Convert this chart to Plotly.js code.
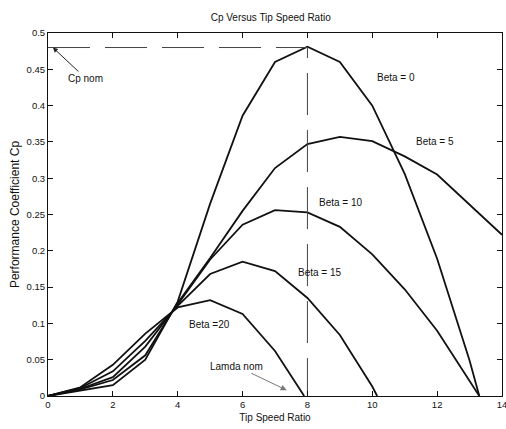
<!DOCTYPE html>
<html>
<head>
<meta charset="utf-8">
<script src="https://cdn.plot.ly/plotly-3.0.1.min.js"></script>
<style>html,body{margin:0;padding:0;background:#fff;}#chart{width:506px;height:429px;}</style>
</head>
<body>
<div id="chart"></div>
<script>
// Tip speed ratio (lambda) and power coefficient (Cp) per blade pitch angle
const lambdaBeta0  = [0, 1, 2, 3, 4, 5, 6, 7, 8, 9, 10, 11, 12, 13, 13.3];
const cpBeta0      = [0, 0.008, 0.015, 0.05, 0.13, 0.265, 0.386, 0.46, 0.481, 0.46, 0.40, 0.306, 0.189, 0.049, 0];

const lambdaBeta5  = [0, 1, 2, 3, 4, 5, 6, 7, 8, 9, 10, 11, 12, 13, 14];
const cpBeta5      = [0, 0.009, 0.022, 0.056, 0.128, 0.19, 0.255, 0.314, 0.347, 0.357, 0.351, 0.33, 0.305, 0.264, 0.222];

const lambdaBeta10 = [0, 1, 2, 3, 4, 5, 6, 7, 8, 9, 10, 11, 12, 13, 13.3];
const cpBeta10     = [0, 0.01, 0.026, 0.068, 0.126, 0.188, 0.236, 0.256, 0.253, 0.233, 0.195, 0.147, 0.09, 0.02, 0];

const lambdaBeta15 = [0, 1, 2, 3, 4, 5, 6, 7, 8, 9, 10, 10.15];
const cpBeta15     = [0, 0.011, 0.034, 0.076, 0.124, 0.168, 0.185, 0.172, 0.135, 0.084, 0.013, 0];

const lambdaBeta20 = [0, 1, 2, 3, 4, 5, 6, 7, 7.9];
const cpBeta20     = [0, 0.012, 0.043, 0.086, 0.122, 0.132, 0.113, 0.062, 0];

// Nominal operating point
const lambdaNom = 8;
const cpNom = 0.48;

const xTickVals = [0, 2, 4, 6, 8, 10, 12, 14];
const yTickVals = [0, 0.05, 0.1, 0.15, 0.2, 0.25, 0.3, 0.35, 0.4, 0.45, 0.5];
const yTickText = ["0", "0.05", "0.1", "0.15", "0.2", "0.25", "0.3", "0.35", "0.4", "0.45", "0.5"];

const curveLabels = [
  {text: "Beta = 0",  x: 10.73, y: 0.439},
  {text: "Beta = 5",  x: 11.93, y: 0.35},
  {text: "Beta = 10", x: 9.02,  y: 0.266},
  {text: "Beta = 15", x: 8.4,   y: 0.17},
  {text: "Beta =20",  x: 4.98,  y: 0.099}
];

const FONT = "Liberation Sans, Arial, Helvetica, sans-serif";
const lineStyle = {color: "#111", width: 1.8};

const traces = [
  {x: lambdaBeta0,  y: cpBeta0,  mode: "lines", line: lineStyle},
  {x: lambdaBeta5,  y: cpBeta5,  mode: "lines", line: lineStyle},
  {x: lambdaBeta10, y: cpBeta10, mode: "lines", line: lineStyle},
  {x: lambdaBeta15, y: cpBeta15, mode: "lines", line: lineStyle},
  {x: lambdaBeta20, y: cpBeta20, mode: "lines", line: lineStyle},
  {x: [0, lambdaNom, lambdaNom], y: [cpNom, cpNom, 0], mode: "lines",
   line: {color: "#444", width: 1, dash: "42px,15px"}}
];

const annotations = curveLabels.map(l => ({
  text: l.text, x: l.x, y: l.y, xref: "x", yref: "y", showarrow: false,
  font: {family: FONT, size: 10, color: "#111"}
}));
annotations.push({
  text: "Cp nom", x: 0.15, y: cpNom, xref: "x", yref: "y",
  showarrow: true, arrowhead: 2, arrowsize: 1, arrowwidth: 1, arrowcolor: "#222",
  ax: 33, ay: 31, font: {family: FONT, size: 10, color: "#111"}
});
annotations.push({
  text: "Lamda nom", x: 7.36, y: 0.008, xref: "x", yref: "y",
  showarrow: true, arrowhead: 2, arrowsize: 1.2, arrowwidth: 1, arrowcolor: "#777",
  ax: -50, ay: -24, font: {family: FONT, size: 10, color: "#111"}
});

const layout = {
  width: 506, height: 429,
  margin: {l: 48, r: 4, t: 33, b: 33},
  paper_bgcolor: "#fff", plot_bgcolor: "#fff",
  showlegend: false,
  font: {family: FONT, size: 9.5, color: "#111"},
  title: {text: "Cp Versus Tip Speed Ratio", font: {family: FONT, size: 10, color: "#111"},
          x: 0.535, xanchor: "center", y: 0.96, yanchor: "middle"},
  xaxis: {
    range: [0, 14], tickvals: xTickVals, ticks: "inside", ticklen: 5, tickcolor: "#111",
    showline: true, linecolor: "#111", linewidth: 1, mirror: "ticks", showgrid: false, zeroline: false,
    tickfont: {family: FONT, size: 9.5}, ticklabeloverflow: "allow",
    title: {text: "Tip Speed Ratio", font: {family: FONT, size: 10}, standoff: 4}
  },
  yaxis: {
    range: [0, 0.5], tickvals: yTickVals, ticktext: yTickText, ticks: "inside", ticklen: 5, tickcolor: "#111",
    showline: true, linecolor: "#111", linewidth: 1, mirror: "ticks", showgrid: false, zeroline: false,
    tickfont: {family: FONT, size: 9.5}, ticklabeloverflow: "allow",
    title: {text: "Performance Coefficient Cp", font: {family: FONT, size: 12}, standoff: 4}
  },
  annotations: annotations
};

Plotly.newPlot("chart", traces, layout, {displayModeBar: false, staticPlot: true});
</script>
</body>
</html>
